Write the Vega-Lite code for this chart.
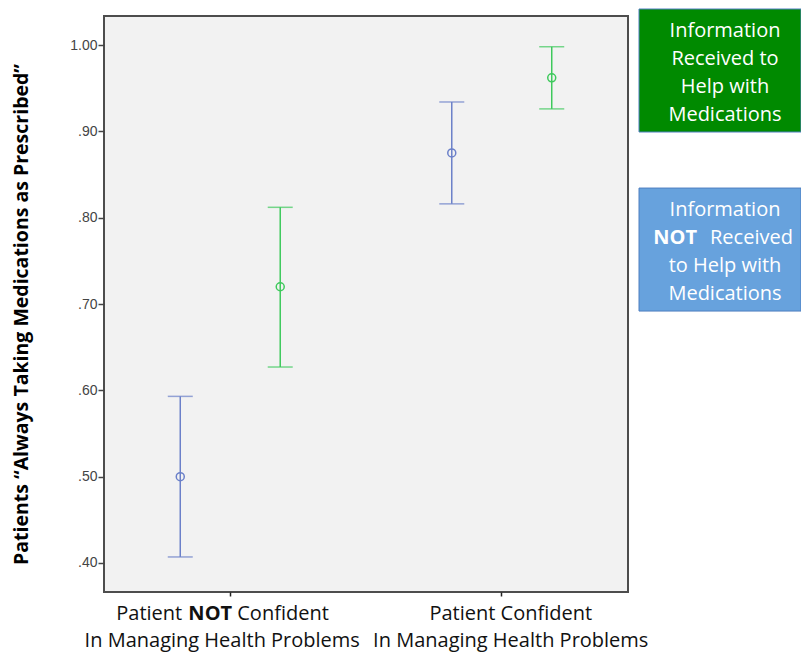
{
  "$schema": "https://vega.github.io/schema/vega-lite/v6.json",
  "padding": {"left": 10, "top": 8, "right": 0, "bottom": 0},
  "background": "white",
  "bounds": "flush",
  "spacing": 11,
  "config": {"view": {"stroke": null}},
  "resolve": {"scale": {"color": "independent", "y": "independent", "x": "independent"}},
  "datasets": {
    "bars": [
      {"conf": "Patient NOT Confident", "info": "NOT Received", "mean": 0.500, "lo": 0.407, "hi": 0.593},
      {"conf": "Patient NOT Confident", "info": "Received", "mean": 0.720, "lo": 0.627, "hi": 0.812},
      {"conf": "Patient Confident", "info": "NOT Received", "mean": 0.875, "lo": 0.816, "hi": 0.934},
      {"conf": "Patient Confident", "info": "Received", "mean": 0.962, "lo": 0.926, "hi": 0.998}
    ],
    "xlab": [
      {"conf": "Patient NOT Confident", "part": "pre", "text": "Patient"},
      {"conf": "Patient NOT Confident", "part": "bold", "text": "NOT"},
      {"conf": "Patient NOT Confident", "part": "post", "text": "Confident"},
      {"conf": "Patient NOT Confident", "part": "line2", "text": "In Managing Health Problems"},
      {"conf": "Patient Confident", "part": "line1", "text": "Patient Confident"},
      {"conf": "Patient Confident", "part": "line2", "text": "In Managing Health Problems"}
    ],
    "boxes": [
      {"key": "Received", "label": "Information\nReceived to\nHelp with\nMedications"},
      {"key": "NOT", "label": "Information", "bold": "NOT", "rest": "Received", "lower": "to Help with\nMedications"}
    ]
  },
  "hconcat": [
    {
      "width": 524,
      "height": 576,
      "view": {"stroke": "#4d4d4d", "strokeWidth": 2, "fill": "#f2f2f2"},
      "layer": [
        {
          "data": {"name": "bars"},
          "encoding": {
            "x": {
              "field": "conf", "type": "nominal",
              "sort": ["Patient NOT Confident", "Patient Confident"],
              "scale": {"paddingInner": 0.5, "paddingOuter": 0.215},
              "axis": {
                "title": null, "domain": false, "ticks": true, "tickSize": 4, "tickColor": "#222", "tickWidth": 1.5,
                "labels": false
              }
            },
            "xOffset": {
              "field": "info", "type": "nominal", "sort": ["NOT Received", "Received"],
              "scale": {"paddingInner": 0.7, "paddingOuter": 0.029}
            },
            "color": {
              "field": "info", "type": "nominal",
              "scale": {"domain": ["NOT Received", "Received"], "range": ["#6b80c9", "#3ec95c"]},
              "legend": null
            }
          },
          "layer": [
            {
              "mark": {"type": "rule", "strokeWidth": 1.5},
              "encoding": {
                "y": {
                  "field": "lo", "type": "quantitative",
                  "scale": {"domain": [0.3664, 1.0336], "nice": false, "zero": false},
                  "axis": {
                    "values": [0.4, 0.5, 0.6, 0.7, 0.8, 0.9, 1.0],
                    "labelExpr": "datum.value >= 1 ? '1.00' : slice(format(datum.value, '.2f'), 1)",
                    "domain": false, "grid": false, "ticks": true, "tickSize": 6, "tickColor": "#444", "tickWidth": 1.5,
                    "labelFont": "Liberation Sans", "labelFontSize": 14, "labelColor": "#444", "labelPadding": 1,
                    "title": "Patients “Always Taking Medications as Prescribed”",
                    "titleFont": "Open Sans", "titleFontSize": 19.5, "titleFontWeight": "bold", "titleColor": "#000",
                    "titlePadding": 38, "titleY": 298
                  }
                },
                "y2": {"field": "hi"}
              }
            },
            {
              "mark": {"type": "tick", "orient": "horizontal", "size": 25, "thickness": 1.5},
              "encoding": {"y": {"field": "lo", "type": "quantitative"}}
            },
            {
              "mark": {"type": "tick", "orient": "horizontal", "size": 25, "thickness": 1.5},
              "encoding": {"y": {"field": "hi", "type": "quantitative"}}
            },
            {
              "mark": {"type": "point", "shape": "circle", "filled": false, "size": 64, "strokeWidth": 1.5, "opacity": 1},
              "encoding": {"y": {"field": "mean", "type": "quantitative"}}
            }
          ]
        },
        {
          "data": {"name": "xlab"},
          "transform": [{"filter": "datum.part == 'line1' || datum.part == 'line2'"}],
          "mark": {
            "type": "text", "y": "height", "baseline": "top", "align": "center",
            "dy": {"expr": "datum.part == 'line2' ? 39 : 12"},
            "dx": {"expr": "datum.conf == 'Patient Confident' ? 9 : -8"},
            "font": "Open Sans", "fontSize": 20, "color": "#111"
          },
          "encoding": {
            "x": {"field": "conf", "type": "nominal", "sort": ["Patient NOT Confident", "Patient Confident"]},
            "text": {"field": "text"}
          }
        },
        {
          "data": {"name": "xlab"},
          "transform": [{"filter": "datum.part == 'pre'"}],
          "mark": {"type": "text", "y": "height", "dy": 12, "baseline": "top", "align": "right", "dx": -48, "font": "Open Sans", "fontSize": 20, "color": "#111"},
          "encoding": {
            "x": {"field": "conf", "type": "nominal", "sort": ["Patient NOT Confident", "Patient Confident"]},
            "text": {"field": "text"}
          }
        },
        {
          "data": {"name": "xlab"},
          "transform": [{"filter": "datum.part == 'bold'"}],
          "mark": {"type": "text", "y": "height", "dy": 12, "baseline": "top", "align": "center", "dx": -20, "font": "Open Sans", "fontSize": 20, "fontWeight": "bold", "color": "#111"},
          "encoding": {
            "x": {"field": "conf", "type": "nominal", "sort": ["Patient NOT Confident", "Patient Confident"]},
            "text": {"field": "text"}
          }
        },
        {
          "data": {"name": "xlab"},
          "transform": [{"filter": "datum.part == 'post'"}],
          "mark": {"type": "text", "y": "height", "dy": 12, "baseline": "top", "align": "left", "dx": 7, "font": "Open Sans", "fontSize": 20, "color": "#111"},
          "encoding": {
            "x": {"field": "conf", "type": "nominal", "sort": ["Patient NOT Confident", "Patient Confident"]},
            "text": {"field": "text"}
          }
        }
      ]
    },
    {
      "width": 162,
      "height": 576,
      "data": {"name": "boxes"},
      "encoding": {
        "y": {
          "field": "key", "type": "nominal",
          "scale": {"domain": ["Received", "NOT"], "paddingInner": 0.313, "paddingOuter": 0.765, "align": 0},
          "axis": null
        }
      },
      "layer": [
        {
          "mark": {"type": "rect", "yOffset": -7, "stroke": "#4f7fc0", "strokeWidth": 1},
          "encoding": {
            "color": {
              "field": "key", "type": "nominal",
              "scale": {"domain": ["Received", "NOT"], "range": ["#008a00", "#67a2dd"]},
              "legend": null
            }
          }
        },
        {
          "mark": {"type": "text", "yOffset": -47, "dx": 5, "lineBreak": "\n", "lineHeight": 28, "font": "Open Sans", "fontSize": 20, "color": "white", "baseline": "middle", "align": "center"},
          "encoding": {"text": {"field": "label"}}
        },
        {
          "transform": [{"filter": "datum.lower != null"}],
          "mark": {"type": "text", "yOffset": 9, "dx": 5, "lineBreak": "\n", "lineHeight": 28, "font": "Open Sans", "fontSize": 20, "color": "white", "baseline": "middle", "align": "center"},
          "encoding": {"text": {"field": "lower"}}
        },
        {
          "transform": [{"filter": "datum.bold != null"}],
          "mark": {"type": "text", "yOffset": -19, "dx": -23, "font": "Open Sans", "fontSize": 20, "fontWeight": "bold", "color": "white", "baseline": "middle", "align": "right"},
          "encoding": {"text": {"field": "bold"}}
        },
        {
          "transform": [{"filter": "datum.bold != null"}],
          "mark": {"type": "text", "yOffset": -19, "dx": -10, "font": "Open Sans", "fontSize": 20, "color": "white", "baseline": "middle", "align": "left"},
          "encoding": {"text": {"field": "rest"}}
        }
      ]
    }
  ]
}
